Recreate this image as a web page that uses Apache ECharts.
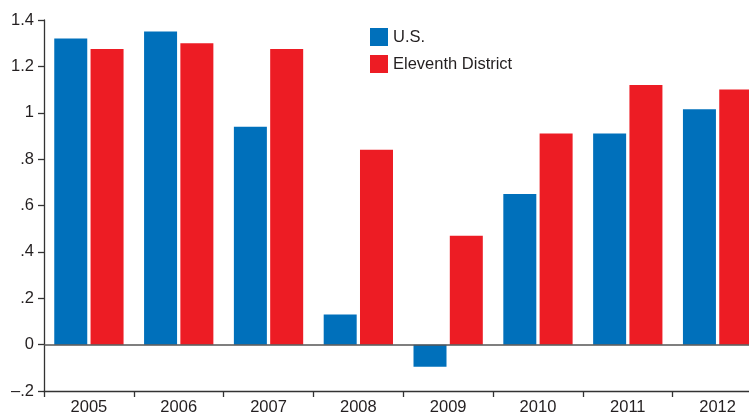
<!DOCTYPE html>
<html>
<head>
<meta charset="utf-8">
<script src="https://cdn.jsdelivr.net/npm/echarts@6/dist/echarts.min.js"></script>
<style>html,body{margin:0;padding:0;background:#fff;}#c{width:749px;height:413px;}</style>
</head>
<body>
<div id="c"></div>
<script>
var categories = ['2005','2006','2007','2008','2009','2010','2011','2012'];
var usValues = [1.32, 1.35, 0.94, 0.13, -0.095, 0.65, 0.91, 1.015];
var districtValues = [1.275, 1.30, 1.275, 0.84, 0.47, 0.91, 1.12, 1.10];
var yTickValues = [-0.2, 0, 0.2, 0.4, 0.6, 0.8, 1, 1.2, 1.4];
var yTickLabels = ['\u2013.2', '0', '.2', '.4', '.6', '.8', '1', '1.2', '1.4'];

var FONT = "'Liberation Sans', Arial, sans-serif";
var TEXT = '#231f20';
var FS = 16.5;
var chart = echarts.init(document.getElementById('c'), null, {renderer: 'canvas'});
chart.setOption({
  animation: false,
  backgroundColor: '#fff',
  grid: {left: 44, top: 20, bottom: 22, right: -13.5, containLabel: false, outerBoundsMode: 'none'},
  legend: {
    orient: 'vertical', left: 365, top: 23, itemWidth: 18, itemHeight: 18, itemGap: 9,
    icon: 'rect',
    textStyle: {fontFamily: FONT, fontSize: FS, color: TEXT},
    data: ['U.S.', 'Eleventh District']
  },
  xAxis: {
    type: 'category', data: categories, boundaryGap: true,
    axisLine: {onZero: false, lineStyle: {color: '#333', width: 1.3}},
    axisTick: {show: true, length: 6, lineStyle: {color: '#333', width: 1.3}},
    axisLabel: {fontFamily: FONT, fontSize: FS, color: TEXT, margin: 8}
  },
  yAxis: {
    type: 'value', min: -0.2, max: 1.4, interval: 0.2,
    axisLine: {show: true, lineStyle: {color: '#333', width: 1.3}},
    axisTick: {show: true, length: 6, lineStyle: {color: '#333', width: 1.3}},
    splitLine: {show: false},
    axisLabel: {
      fontFamily: FONT, fontSize: FS, color: TEXT, margin: 10,
      formatter: function (v) {
        for (var i = 0; i < yTickValues.length; i++) {
          if (Math.abs(yTickValues[i] - v) < 1e-6) return yTickLabels[i];
        }
        return '';
      }
    }
  },
  series: [
    {
      name: 'U.S.', type: 'bar', data: usValues, barWidth: 33, barGap: '10%',
      itemStyle: {color: '#0070bb'},
      markLine: {
        silent: true, symbol: ['none', 'none'], label: {show: false},
        lineStyle: {color: '#555', width: 1.7, type: 'solid'},
        data: [{yAxis: 0}]
      }
    },
    {
      name: 'Eleventh District', type: 'bar', data: districtValues, barWidth: 33, barGap: '10%',
      itemStyle: {color: '#ed1c24'}
    }
  ]
});
</script>
</body>
</html>
